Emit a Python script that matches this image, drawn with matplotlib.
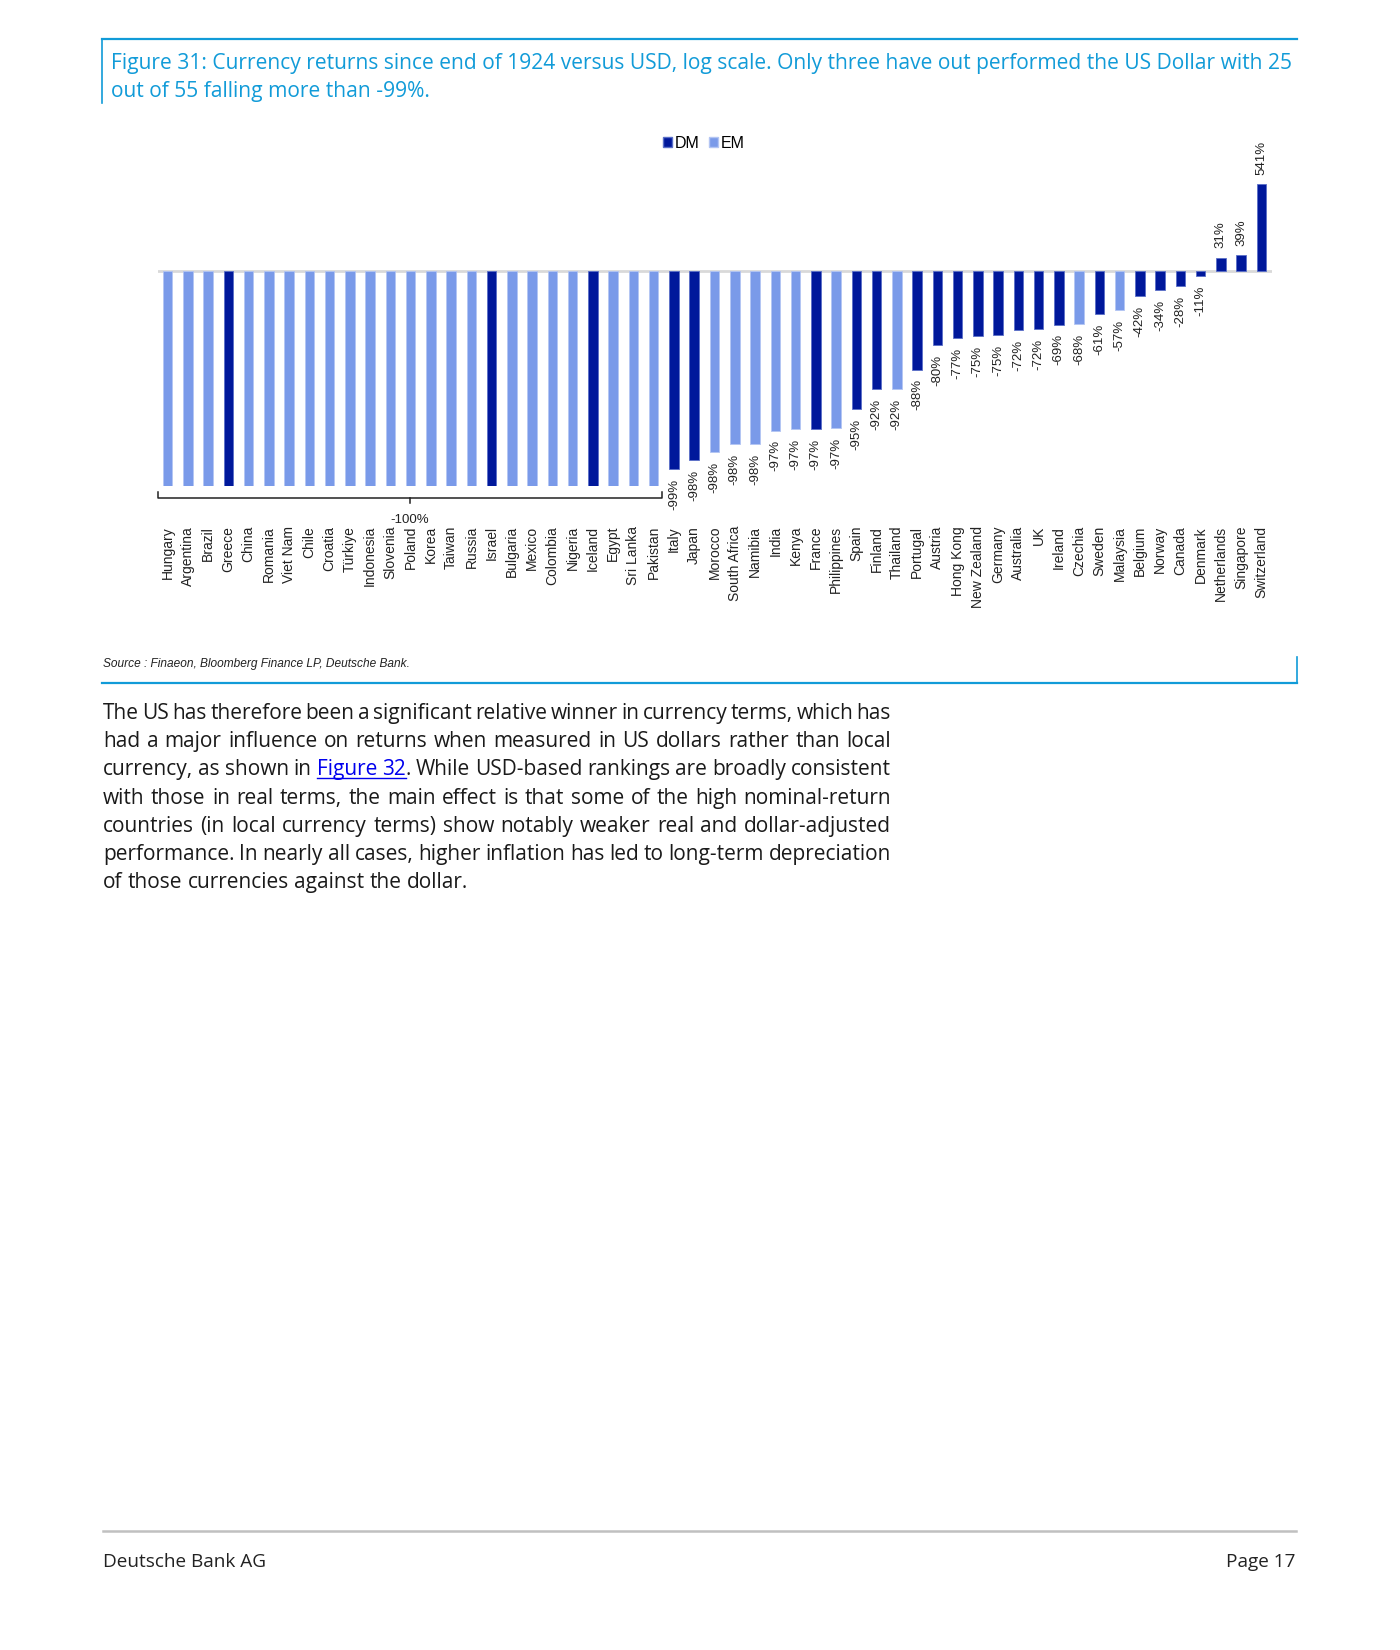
import matplotlib
matplotlib.use("Agg")
import matplotlib.pyplot as plt
import matplotlib.transforms as mtransforms
from matplotlib.lines import Line2D
from matplotlib.patches import Patch

plt.rcParams["font.family"] = ["Liberation Sans", "DejaVu Sans"]

# Data: currency returns vs USD since end of 1924 (%)
countries = ["Hungary", "Argentina", "Brazil", "Greece", "China", "Romania", "Viet Nam",
             "Chile", "Croatia", "Türkiye", "Indonesia", "Slovenia", "Poland", "Korea",
             "Taiwan", "Russia", "Israel", "Bulgaria", "Mexico", "Colombia", "Nigeria",
             "Iceland", "Egypt", "Sri Lanka", "Pakistan", "Italy", "Japan", "Morocco",
             "South Africa", "Namibia", "India", "Kenya", "France", "Philippines", "Spain",
             "Finland", "Thailand", "Portugal", "Austria", "Hong Kong", "New Zealand",
             "Germany", "Australia", "UK", "Ireland", "Czechia", "Sweden", "Malaysia",
             "Belgium", "Norway", "Canada", "Denmark", "Netherlands", "Singapore",
             "Switzerland"]
groups = ["EM", "EM", "EM", "DM", "EM", "EM", "EM", "EM", "EM", "EM", "EM", "EM", "EM",
          "EM", "EM", "EM", "DM", "EM", "EM", "EM", "EM", "DM", "EM", "EM", "EM", "DM",
          "DM", "EM", "EM", "EM", "EM", "EM", "DM", "EM", "DM", "DM", "EM", "DM", "DM",
          "DM", "DM", "DM", "DM", "DM", "DM", "EM", "DM", "EM", "DM", "DM", "DM", "DM",
          "DM", "DM", "DM"]
returns = [-99.9, -99.9, -99.9, -99.9, -99.9, -99.9, -99.9, -99.9, -99.9, -99.9, -99.9,
           -99.9, -99.9, -99.9, -99.9, -99.9, -99.9, -99.9, -99.9, -99.9, -99.9, -99.9,
           -99.9, -99.9, -99.6, -98.6, -98.3, -98.0, -97.6, -97.6, -96.8, -96.7, -96.7,
           -96.6, -94.9, -92.2, -92.2, -88.1, -79.8, -76.7, -75.3, -74.9, -72.1, -71.6,
           -68.6, -68.4, -60.9, -57.0, -42.0, -33.8, -28.3, -11.2, 31.0, 39.0, 541.0]
n_total_loss = 25  # countries grouped under the "-100%" bracket

colors = {"DM": "#00189b", "EM": "#7a9ae9"}
edges = {"DM": "#5a6fc8", "EM": "#b3c5f3"}
blue = "#119bd8"
text_font = ["Open Sans", "DejaVu Sans"]

W, H = 1400, 1650
fig = plt.figure(figsize=(W / 100, H / 100), dpi=100)
renderer = fig.canvas.get_renderer()


def fx(x):
    return x / W


def fy(y):
    return 1 - y / H


def text_width(s, size, **kw):
    t = fig.text(0, 0, s, fontsize=size, **kw)
    w = t.get_window_extent(renderer).width
    t.remove()
    return w


def fit_size(s, target, **kw):
    # font size that makes s about target pixels wide
    return 10 * target / text_width(s, 10, **kw)


# chart axes
ax_left, ax_right, ax_top, ax_bottom = 157.5, 1271.5, 163.7, 485.6
ax = fig.add_axes([fx(ax_left), fy(ax_bottom), (ax_right - ax_left) / W,
                   (ax_bottom - ax_top) / H])
ax.set_yscale("log")
ax.set_ylim(0.0098, 10)
ax.set_xlim(-0.5, 54.5)
for s in ax.spines.values():
    s.set_visible(False)
ax.set_yticks([])
ax.set_yticks([], minor=True)

xs = list(range(len(countries)))
ratios = [1 + r / 100 for r in returns]
ax.axhline(1, color="#d9d9d9", lw=2, zorder=1)
ax.bar(xs, [r - 1 for r in ratios], bottom=1, width=0.47,
       color=[colors[g] for g in groups], edgecolor=[edges[g] for g in groups],
       linewidth=0.6, zorder=2)

ax.set_xticks(xs)
ax.set_xticklabels(countries, rotation=90, fontsize=10, color="#222222")
ax.tick_params(axis="x", length=0, pad=29)

# data labels
for i in range(n_total_loss, len(countries)):
    r = returns[i]
    off, va = (-7, "top") if r < 0 else (7, "bottom")
    ax.annotate(f"{r:.0f}%", (i, ratios[i]), xytext=(0, off), textcoords="offset points",
                rotation=90, ha="center", va=va, fontsize=9.5, color="#222222")

# bracket for the -100% group
trans = mtransforms.blended_transform_factory(ax.transData, ax.transAxes)
bl, br = -0.48, n_total_loss - 0.6
mid = (bl + br) / 2
ax.plot([bl, bl, br, br], [-0.02, -0.039, -0.039, -0.02], color="#222222", lw=1.1,
        transform=trans, clip_on=False)
ax.plot([mid, mid], [-0.039, -0.055], color="#222222", lw=1.1, transform=trans, clip_on=False)
ax.text(mid, -0.106, "-100%", transform=trans, ha="center", va="center", fontsize=9.5,
        color="#222222")

# legend
fig.legend(handles=[Patch(facecolor=colors["DM"], edgecolor=edges["DM"], label="DM"),
                    Patch(facecolor=colors["EM"], edgecolor=edges["EM"], label="EM")],
           loc="center", bbox_to_anchor=(fx(704), fy(143)), ncol=2, frameon=False,
           handlelength=0.55, handleheight=0.55, handletextpad=0.2, columnspacing=0.6,
           fontsize=11.5)

# title box
title1 = ("Figure 31: Currency returns since end of 1924 versus USD, log scale. "
          "Only three have out performed the US Dollar with 25")
title2 = "out of 55 falling more than -99%."
title_size = fit_size(title1, 1184, family=text_font)
fig.add_artist(Line2D([fx(102), fx(1297)], [fy(39), fy(39)], color=blue, lw=1.6))
fig.add_artist(Line2D([fx(102), fx(102)], [fy(39), fy(103)], color=blue, lw=1.2))
fig.text(fx(111), fy(64), title1, color=blue, fontsize=title_size, family=text_font,
         va="center", ha="left")
fig.text(fx(111), fy(92), title2, color=blue, fontsize=title_size, family=text_font,
         va="center", ha="left")

# source + bottom box line
source = "Source : Finaeon, Bloomberg Finance LP, Deutsche Bank."
source_size = fit_size(source, 307, style="italic")
fig.text(fx(103), fy(664), source, fontsize=source_size, style="italic", color="#222222",
         va="center")
fig.add_artist(Line2D([fx(102), fx(1297)], [fy(683), fy(683)], color=blue, lw=1.6))
fig.add_artist(Line2D([fx(1297), fx(1297)], [fy(657), fy(683)], color=blue, lw=1.2))

# body paragraph, justified
body_lines = [
    "The US has therefore been a significant relative winner in currency terms, which has",
    "had a major influence on returns when measured in US dollars rather than local",
    "currency, as shown in [Figure] [32]. While USD-based rankings are broadly consistent",
    "with those in real terms, the main effect is that some of the high nominal-return",
    "countries (in local currency terms) show notably weaker real and dollar-adjusted",
    "performance. In nearly all cases, higher inflation has led to long-term depreciation",
    "of those currencies against the dollar.",
]
body_size = fit_size(body_lines[-1], 366, family=text_font)


def split_word(word):
    # list of (text, is_link) parts
    if word.startswith("["):
        link, rest = word[1:].split("]")
        return [(link, True)] + ([(rest, False)] if rest else [])
    return [(word, False)]


x0, x1 = 103, 891
y0, dy = 719, 28.2
space_w = (text_width("a b", body_size, family=text_font)
           - text_width("ab", body_size, family=text_font))
link_x = []
for k, line in enumerate(body_lines):
    words = [split_word(w) for w in line.split(" ")]
    widths = [[text_width(p[0], body_size, family=text_font) for p in w] for w in words]
    total = sum(sum(w) for w in widths)
    last = k == len(body_lines) - 1
    gap = space_w if last else (x1 - x0 - total) / (len(words) - 1)
    x = x0
    yb = y0 + k * dy
    for parts, ws in zip(words, widths):
        for (s, is_link), w in zip(parts, ws):
            fig.text(fx(x), fy(yb), s, fontsize=body_size, family=text_font, va="baseline",
                     ha="left", color="#0000ee" if is_link else "#1a1a1a")
            if is_link:
                link_x.append((x, x + w, yb))
            x += w
        x += gap

if link_x:
    ux0, ux1, uy = link_x[0][0], link_x[-1][1], link_x[0][2] + 2.5
    fig.add_artist(Line2D([fx(ux0), fx(ux1)], [fy(uy), fy(uy)], color="#0000ee", lw=1))

# footer
foot_size = fit_size("Deutsche Bank AG", 164, family=text_font)
fig.add_artist(Line2D([fx(103), fx(1296)], [fy(1531), fy(1531)], color="#c0c0c0", lw=1.8))
fig.text(fx(103), fy(1562), "Deutsche Bank AG", fontsize=foot_size, family=text_font,
         color="#222222", va="center")
fig.text(fx(1296), fy(1562), "Page 17", fontsize=foot_size, family=text_font,
         color="#222222", va="center", ha="right")

fig.savefig("out.png", dpi=100)
plt.close(fig)
